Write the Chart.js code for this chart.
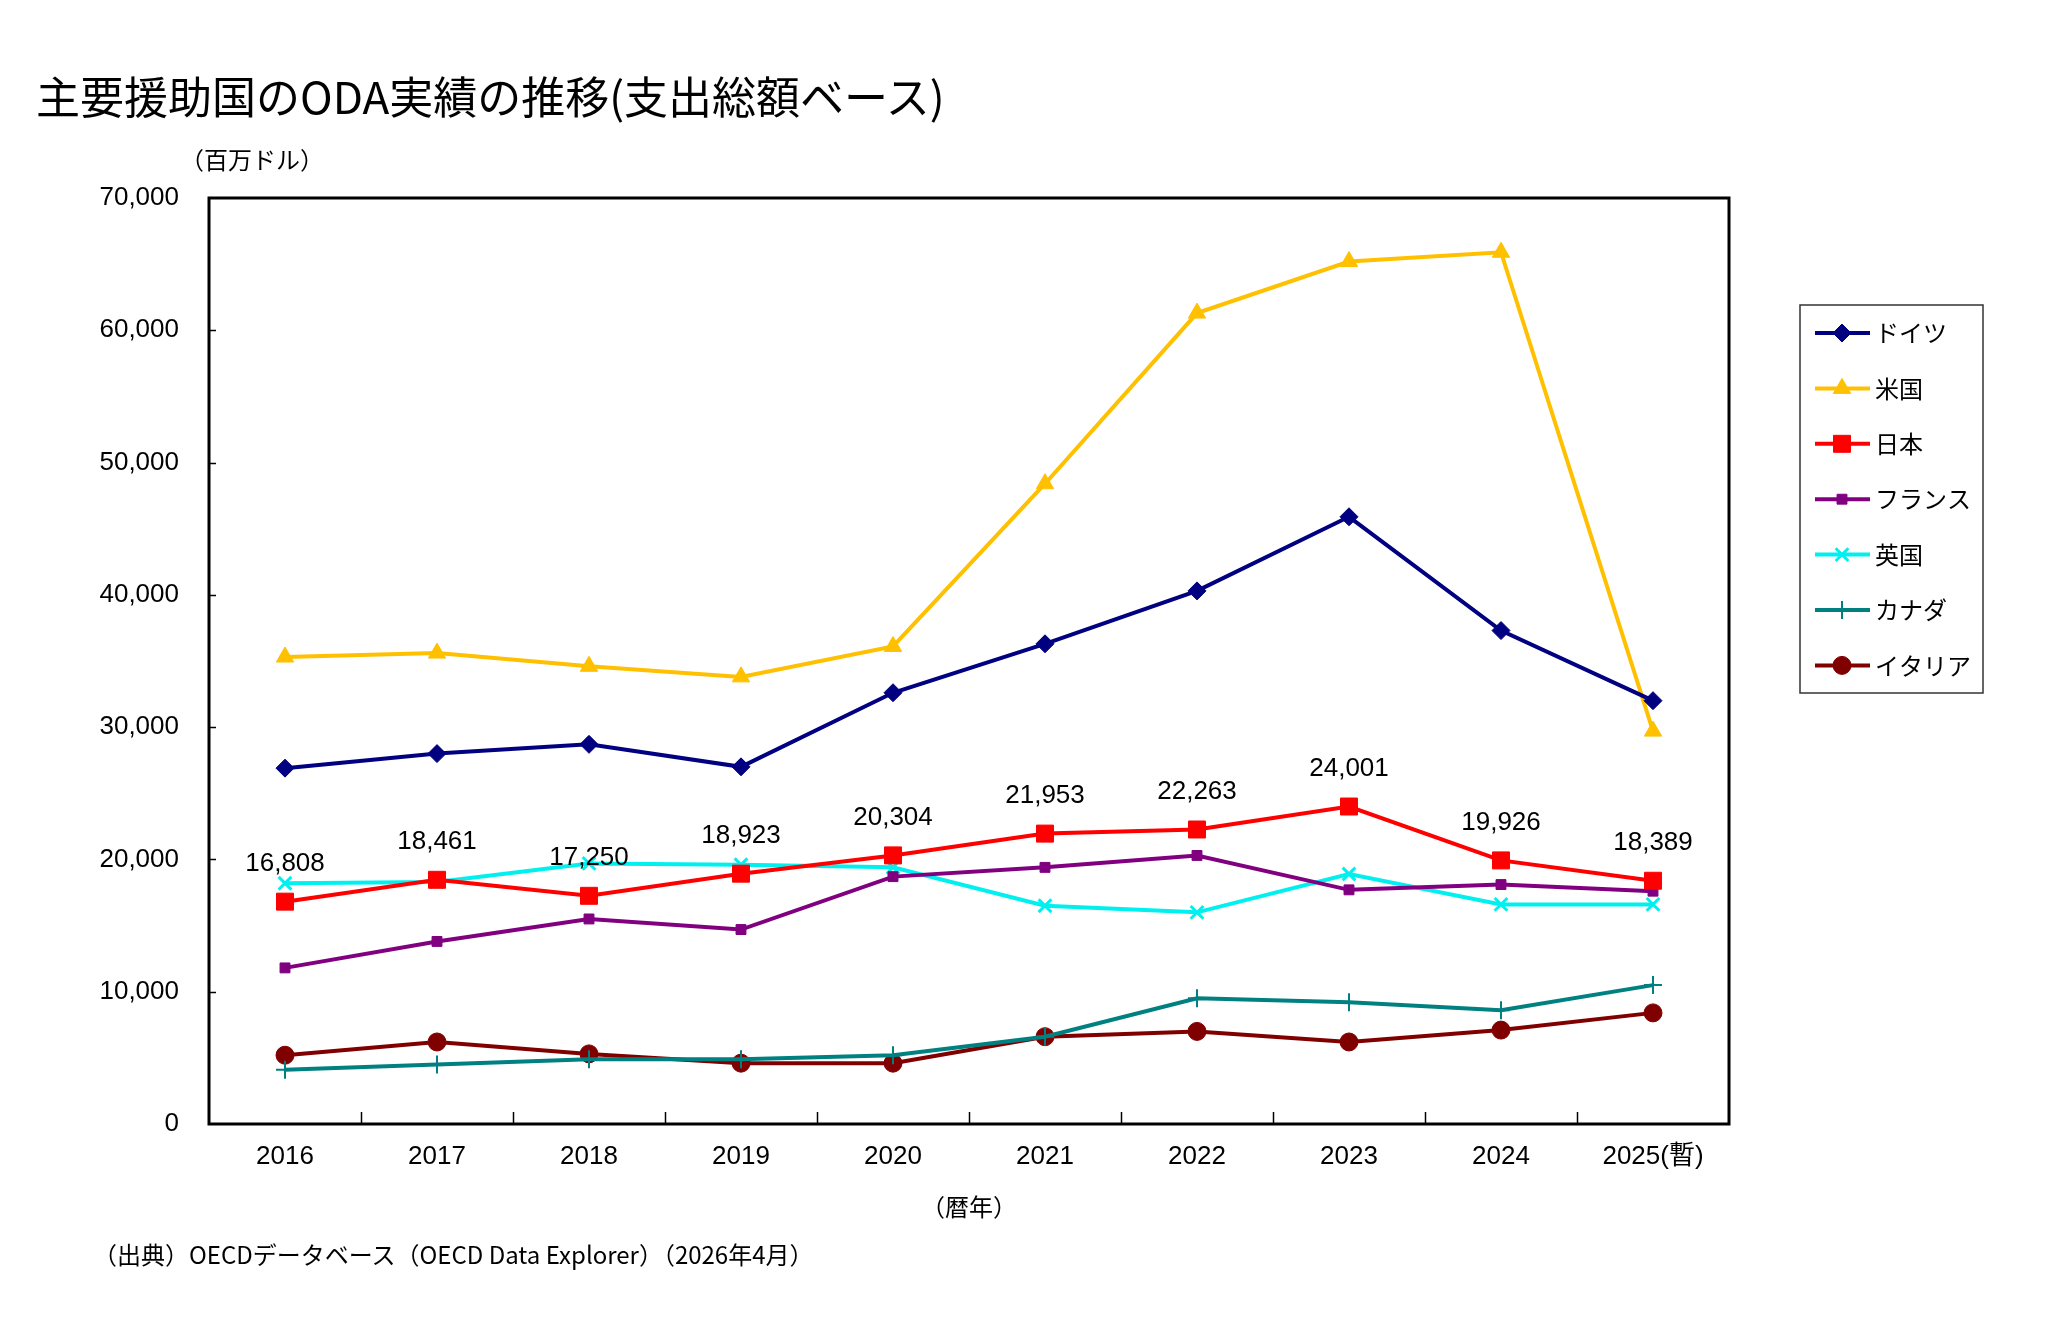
<!DOCTYPE html>
<html>
<head>
<meta charset="utf-8">
<title>主要援助国のODA実績の推移</title>
<script src="https://cdn.jsdelivr.net/npm/chart.js"></script>
<style>
  body { margin: 0; background: #fff; font-family: "Noto Sans CJK JP", sans-serif; }
  .page { position: relative; width: 2065px; height: 1340px; overflow: hidden; }
  #chart { position: absolute; left: 0; top: 0; }
  .txt { position: absolute; line-height: 1; color: #000; white-space: nowrap; }
  .title { left: 36px; top: 73px; font-size: 44px; }
  .unit { left: 180px; top: 147px; font-size: 24px; }
  .source { left: 93px; top: 1242px; font-size: 24px; }
</style>
</head>
<body>
<div class="page">
  <canvas id="chart" width="2065" height="1340"></canvas>
  <div class="txt title">主要援助国のODA実績の推移(支出総額ベース)</div>
  <div class="txt unit">（百万ドル）</div>
  <div class="txt source">（出典）OECDデータベース（OECD Data Explorer）（2026年4月）</div>
</div>

<script>
// 暦年
const years = ['2016', '2017', '2018', '2019', '2020', '2021', '2022', '2023', '2024', '2025(暫)'];

// 支出総額 (百万ドル)
const germany = [26900, 28000, 28700, 27000, 32600, 36300, 40300, 45900, 37300, 32000];
const usa     = [35300, 35600, 34600, 33800, 36100, 48400, 61300, 65200, 65900, 29700];
const japan   = [16808, 18461, 17250, 18923, 20304, 21953, 22263, 24001, 19926, 18389];
const france  = [11800, 13800, 15500, 14700, 18700, 19400, 20300, 17700, 18100, 17600];
const uk      = [18200, 18300, 19700, 19600, 19400, 16500, 16000, 18900, 16600, 16600];
const canada  = [4100, 4500, 4900, 4900, 5200, 6600, 9500, 9200, 8600, 10500];
const italy   = [5200, 6200, 5300, 4600, 4600, 6600, 7000, 6200, 7100, 8400];

const yMin = 0, yMax = 70000, yStep = 10000;

const numFont = '"Liberation Sans", "Noto Sans CJK JP", sans-serif';
const fmt = v => Number(v).toLocaleString('en-US');

function series(label, data, color, style, radius, bw) {
  return {
    label: label,
    data: data,
    borderColor: color,
    backgroundColor: color,
    borderWidth: 4,
    pointStyle: style,
    pointRadius: radius,
    pointHoverRadius: radius,
    pointBackgroundColor: color,
    pointBorderColor: color,
    pointBorderWidth: bw,
    tension: 0,
    clip: false
  };
}

const datasets = [
  series('ドイツ', germany, '#000080', 'rectRot', 9, 1),
  series('米国', usa, '#FFC000', 'triangle', 10, 1),
  series('日本', japan, '#FF0000', 'rect', 12, 1),
  series('フランス', france, '#800080', 'rect', 7, 1),
  series('英国', uk, '#00F0F0', 'crossRot', 9, 3),
  series('カナダ', canada, '#008080', 'cross', 9, 2),
  series('イタリア', italy, '#800000', 'circle', 9, 1)
];

// plot frame + inner tick marks
const framePlugin = {
  id: 'frame',
  afterDraw(chart) {
    const { ctx, chartArea: a, scales } = chart;
    ctx.save();
    ctx.strokeStyle = '#000';
    ctx.lineWidth = 1.5;
    // y ticks (inside)
    for (let v = yMin + yStep; v < yMax; v += yStep) {
      const y = Math.round(scales.y.getPixelForValue(v)) + 0.5;
      ctx.beginPath();
      ctx.moveTo(a.left, y);
      ctx.lineTo(a.left + 7, y);
      ctx.stroke();
    }
    // x ticks between categories (inside)
    for (let i = 0; i < years.length - 1; i++) {
      const x = Math.round((scales.x.getPixelForValue(i) + scales.x.getPixelForValue(i + 1)) / 2) + 0.5;
      ctx.beginPath();
      ctx.moveTo(x, a.bottom);
      ctx.lineTo(x, a.bottom - 12);
      ctx.stroke();
    }
    ctx.lineWidth = 3;
    ctx.strokeRect(a.left, a.top, a.right - a.left, a.bottom - a.top);
    ctx.restore();
  }
};

// value labels for 日本
const japanLabels = {
  id: 'japanLabels',
  afterDatasetsDraw(chart) {
    const { ctx } = chart;
    const meta = chart.getDatasetMeta(2);
    ctx.save();
    ctx.fillStyle = '#000';
    ctx.font = '26px ' + numFont;
    ctx.textAlign = 'center';
    ctx.textBaseline = 'middle';
    meta.data.forEach((pt, i) => {
      ctx.fillText(fmt(japan[i]), pt.x, pt.y - 38);
    });
    ctx.restore();
  }
};

// boxed legend on the right: line + marker + name
const boxLegend = {
  id: 'boxLegend',
  afterDraw(chart) {
    const { ctx } = chart;
    const box = { x: 1800, y: 305, w: 183, h: 388 };
    ctx.save();
    ctx.strokeStyle = '#333';
    ctx.lineWidth = 1.5;
    ctx.strokeRect(box.x, box.y, box.w, box.h);
    chart.data.datasets.forEach((ds, i) => {
      const y = 333 + i * 55.4;
      ctx.strokeStyle = ds.borderColor;
      ctx.fillStyle = ds.backgroundColor;
      ctx.lineWidth = 4;
      ctx.beginPath();
      ctx.moveTo(1815, y);
      ctx.lineTo(1870, y);
      ctx.stroke();
      if (Chart.helpers && Chart.helpers.drawPoint) {
        ctx.lineWidth = ds.pointBorderWidth;
        Chart.helpers.drawPoint(ctx, {
          pointStyle: ds.pointStyle,
          radius: ds.pointRadius,
          rotation: 0,
          borderWidth: ds.pointBorderWidth
        }, 1842, y);
      }
      ctx.fillStyle = '#000';
      ctx.font = '24px "Noto Sans CJK JP", sans-serif';
      ctx.textAlign = 'left';
      ctx.textBaseline = 'middle';
      ctx.fillText(ds.label, 1875, y);
    });
    ctx.restore();
  }
};

new Chart(document.getElementById('chart'), {
  type: 'line',
  data: { labels: years, datasets: datasets },
  options: {
    responsive: false,
    animation: false,
    layout: { padding: { top: 198, right: 336, bottom: 119, left: 0 } },
    plugins: {
      legend: { display: false },
      title: { display: false },
      tooltip: { enabled: false }
    },
    scales: {
      x: {
        offset: true,
        grid: { display: false, drawTicks: false },
        border: { display: false },
        ticks: {
          color: '#000',
          padding: 17,
          maxRotation: 0,
          autoSkip: false,
          font: { family: numFont, size: 26 }
        },
        title: {
          display: true,
          text: '（暦年）',
          color: '#000',
          padding: { top: 0, bottom: 0 },
          font: { family: '"Noto Sans CJK JP", sans-serif', size: 24 }
        },
        afterFit(scale) { scale.height = 97; }
      },
      y: {
        min: yMin,
        max: yMax,
        grid: { display: false, drawTicks: false },
        border: { display: false },
        ticks: {
          stepSize: yStep,
          color: '#000',
          padding: 30,
          font: { family: numFont, size: 26 },
          callback: v => fmt(v)
        },
        afterFit(scale) { scale.width = 209; }
      }
    }
  },
  plugins: [framePlugin, japanLabels, boxLegend]
});
</script>
</body>
</html>
